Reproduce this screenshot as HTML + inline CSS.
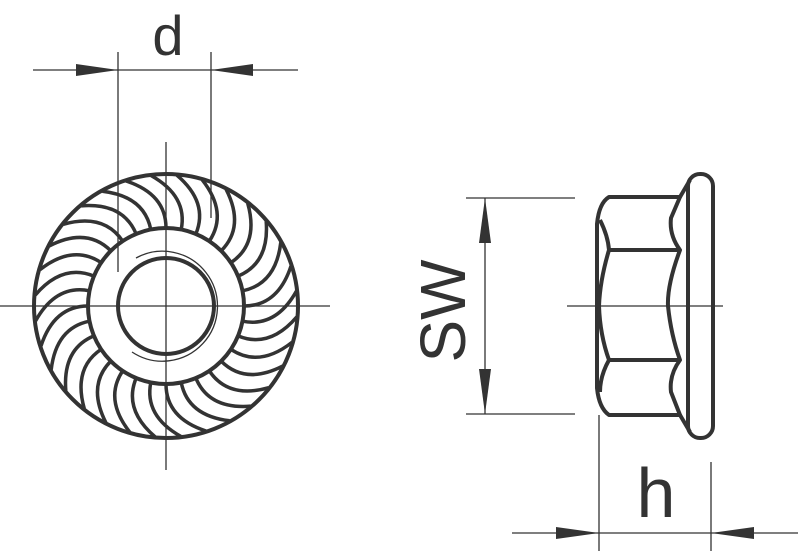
<!DOCTYPE html>
<html><head><style>html,body{margin:0;padding:0;background:#fff}svg{display:block}</style></head>
<body>
<svg width="800" height="556" viewBox="0 0 800 556" xmlns="http://www.w3.org/2000/svg">
<defs>
<path id="sr" d="M244,306 Q278,306 291,266" stroke="#333" fill="none" stroke-width="3.5"/>
</defs>
<g stroke="#333" fill="none" stroke-width="1.3">
<line x1="118" y1="52" x2="118" y2="272"/>
<line x1="211" y1="52" x2="211" y2="218"/>
<line x1="33" y1="70" x2="298" y2="70"/>
<line x1="166" y1="142" x2="166" y2="470"/>
<line x1="0" y1="306" x2="330" y2="306"/>
<line x1="466" y1="198" x2="575" y2="198"/>
<line x1="466" y1="414" x2="575" y2="414"/>
<line x1="485" y1="198" x2="485" y2="414"/>
<line x1="567" y1="306" x2="723" y2="306"/>
<line x1="599" y1="415" x2="599" y2="551"/>
<line x1="711" y1="462" x2="711" y2="551"/>
<line x1="512" y1="533" x2="798" y2="533"/>
</g>
<g fill="#333">
<polygon points="118,70 76,64 76,76"/>
<polygon points="211,70 253,64 253,76"/>
<polygon points="485,198 479,243 491,243"/>
<polygon points="485,414 479,369 491,369"/>
<polygon points="599,533 556,527 556,539"/>
<polygon points="711,533 754,527 754,539"/>
</g>
<g fill="#333" font-family="Liberation Sans, sans-serif">
<text x="168" y="55" font-size="56" text-anchor="middle">d</text>
<text x="656" y="517" font-size="70" text-anchor="middle">h</text>
<text transform="translate(465,311) rotate(-90)" font-size="64" text-anchor="middle">SW</text>
</g>
<g stroke="#333" fill="none" stroke-width="4">
<circle cx="166" cy="306" r="132"/>
<circle cx="166" cy="306" r="78"/>
<circle cx="166" cy="306" r="48"/>
</g>
<g>
<use href="#sr" transform="rotate(0,166,306)"/>
<use href="#sr" transform="rotate(11.25,166,306)"/>
<use href="#sr" transform="rotate(22.5,166,306)"/>
<use href="#sr" transform="rotate(33.75,166,306)"/>
<use href="#sr" transform="rotate(45,166,306)"/>
<use href="#sr" transform="rotate(56.25,166,306)"/>
<use href="#sr" transform="rotate(67.5,166,306)"/>
<use href="#sr" transform="rotate(78.75,166,306)"/>
<use href="#sr" transform="rotate(90,166,306)"/>
<use href="#sr" transform="rotate(101.25,166,306)"/>
<use href="#sr" transform="rotate(112.5,166,306)"/>
<use href="#sr" transform="rotate(123.75,166,306)"/>
<use href="#sr" transform="rotate(135,166,306)"/>
<use href="#sr" transform="rotate(146.25,166,306)"/>
<use href="#sr" transform="rotate(157.5,166,306)"/>
<use href="#sr" transform="rotate(168.75,166,306)"/>
<use href="#sr" transform="rotate(180,166,306)"/>
<use href="#sr" transform="rotate(191.25,166,306)"/>
<use href="#sr" transform="rotate(202.5,166,306)"/>
<use href="#sr" transform="rotate(213.75,166,306)"/>
<use href="#sr" transform="rotate(225,166,306)"/>
<use href="#sr" transform="rotate(236.25,166,306)"/>
<use href="#sr" transform="rotate(247.5,166,306)"/>
<use href="#sr" transform="rotate(258.75,166,306)"/>
<use href="#sr" transform="rotate(270,166,306)"/>
<use href="#sr" transform="rotate(281.25,166,306)"/>
<use href="#sr" transform="rotate(292.5,166,306)"/>
<use href="#sr" transform="rotate(303.75,166,306)"/>
<use href="#sr" transform="rotate(315,166,306)"/>
<use href="#sr" transform="rotate(326.25,166,306)"/>
<use href="#sr" transform="rotate(337.5,166,306)"/>
<use href="#sr" transform="rotate(348.75,166,306)"/>
</g>
<path d="M136,258 A55,55 0 1 1 132,352" stroke="#333" fill="none" stroke-width="1.3"/>
<g stroke="#333" fill="none" stroke-width="4" stroke-linejoin="round">
<path d="M609,197 L680,197 L671,218 Q669,235 680,250 Q667,285 668,306 Q671,335 680,360 Q669,375 671,392 L680,415 L609,415 Q599,408 597,388 L597,224 Q599,203 609,197 Z"/>
<line x1="608" y1="250" x2="680" y2="250"/>
<line x1="608" y1="360" x2="680" y2="360"/>
<path d="M600,220 Q608,236 609,250 Q600,280 599,306 Q600,335 609,360 Q600,376 600,392"/>
<rect x="688" y="174" width="25" height="264" rx="12"/>
<line x1="680" y1="197" x2="690" y2="180"/>
<line x1="680" y1="415" x2="690" y2="432"/>
</g>
</svg>
</body></html>
